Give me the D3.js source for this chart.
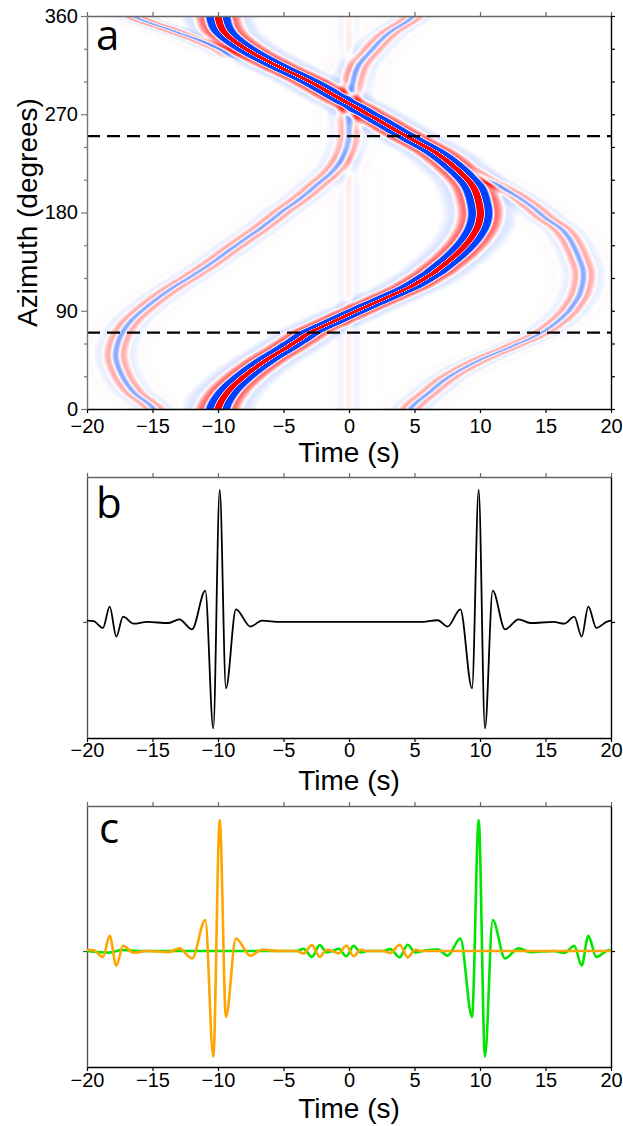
<!DOCTYPE html>
<html>
<head>
<meta charset="utf-8">
<script src="https://cdn.jsdelivr.net/npm/d3@7"></script>
<style>
body { margin: 0; background: #fff; }
svg { display: block; }
text { font-family: "Liberation Sans", Arial, sans-serif; }
</style>
</head>
<body>
<script>
// ---- axis values ----
var timeTicks = [-20, -15, -10, -5, 0, 5, 10, 15, 20];
var azLabels = [0, 90, 180, 270, 360];
var azMinor = [30, 60, 120, 150, 210, 240, 300, 330];
var azRight = [0, 30, 60, 90, 120, 150, 180, 210, 240, 270, 300, 330, 360];
var dashedAz = [70, 250];

// ---- panel a: arrival time (s) against azimuth (deg) ----
var mainAz = [0, 15, 30, 45, 60, 70, 80, 90, 100, 112, 125, 143, 160, 175, 190, 205, 220, 235, 250, 260, 270, 285, 300, 315, 330, 345, 360];
var mainT  = [-10, -9.3, -8.0, -6.3, -4.3, -3.0, -1.2, 0.6, 2.5, 4.7, 6.5, 8.3, 9.5, 10.0, 9.9, 9.4, 8.2, 6.6, 4.4, 2.9, 1.4, -0.8, -3.0, -5.6, -7.9, -9.5, -10];
var mainAmp = 1;

var leftAz = [0, 15, 30, 48, 65, 80, 95, 110, 125, 137, 150, 165, 182, 195, 205, 216, 228, 240, 252, 268, 283, 298, 314, 329, 344, 360];
var leftT  = [-14.9, -16.4, -17.3, -17.8, -17.5, -16.7, -15.3, -13.6, -11.6, -10.1, -8.6, -6.8, -5.0, -3.5, -2.5, -1.4, -0.6, -0.15, 0.0, 0.0, 0.05, 0.25, 0.7, 1.75, 3.0, 4.9];
var leftAmp = -0.14;

var rightAz = [0, 15, 30, 45, 60, 70, 80, 90, 105, 124, 140, 155, 165, 175, 185, 195, 205, 213, 222];
var rightT  = [4.7, 6.1, 7.7, 10.0, 12.9, 14.7, 15.9, 16.8, 17.6, 17.9, 17.5, 16.9, 16.2, 15.0, 14.0, 12.8, 11.4, 10.2, 9.3];
var rightAmp = -0.14;

var topAz = [318, 323, 332, 344, 360];
var topT  = [-8.2, -9.0, -10.3, -12.9, -16.4];
var topAmp = -0.15;

var zeroAz = [0, 360];
var zeroT  = [0, 0];
var zeroAmp = 0.02;

// band profile across an arrival in panel a (offset s, relative amplitude)
var bandOffsets = [-3.2, -2.1, -1.2, -0.55, 0, 0.55, 1.2, 2.1, 3.2];
var bandAmps    = [0, -0.04, 0.17, -0.7, 1.0, -0.7, 0.17, -0.04, 0];

// ---- panel b trace ----
var bTime = [-20, -19.5, -18.78, -18.27, -17.76, -17.25, -16.44, -15.42, -13.77, -12.95, -11.98, -10.97, -10.36, -9.87, -9.39, -8.63, -7.53, -6.64, -5.24,
             5.45, 6.77, 7.53, 8.50, 9.39, 9.90, 10.38, 10.97, 11.91, 12.95, 13.84, 15.62, 16.44, 17.2, 17.76, 18.27, 18.88, 19.7, 20];
var bAmp  = [0.01, 0.006, -0.045, 0.116, -0.111, 0.04, -0.013, 0, -0.008, 0.02, -0.056, 0.237, -0.806, 1.0, -0.503, 0.096, -0.035, 0.01, 0,
             0, 0.013, -0.035, 0.096, -0.503, 1.0, -0.806, 0.237, -0.056, 0.02, -0.008, 0, -0.013, 0.04, -0.111, 0.116, -0.045, 0.003, 0.01];

// ---- panel c traces ----
var orangeTime = [-20, -19.5, -18.78, -18.27, -17.76, -17.25, -16.44, -15.42, -13.77, -12.95, -11.98, -10.97, -10.36, -9.87, -9.39, -8.63, -7.53, -6.64, -5.24,
                  -4.0, -3.47, -2.83, -2.24, -1.7, -1.25, -0.79, -0.2, 0.36, 0.87, 1.4, 2.6, 3.15, 3.87, 4.48, 5.05, 5.6, 20];
var orangeAmp  = [0.01, 0.006, -0.045, 0.116, -0.111, 0.04, -0.013, 0, -0.008, 0.02, -0.056, 0.237, -0.806, 1.0, -0.503, 0.096, -0.035, 0.01, 0,
                  0, -0.018, 0.045, -0.045, 0.01, 0, -0.018, 0.04, -0.04, 0.01, 0, 0, -0.015, 0.048, -0.048, 0.01, 0, 0];
var greenTime = [-20, -18.3, -17.3, -16.0, -4.0, -3.47, -2.83, -2.24, -1.7, -1.25, -0.79, -0.2, 0.36, 0.87, 1.4, 2.6, 3.15, 3.87, 4.48, 5.05, 5.6,
                 6.77, 7.53, 8.50, 9.39, 9.90, 10.38, 10.97, 11.91, 12.95, 13.84, 15.62, 16.44, 17.2, 17.76, 18.27, 18.88, 19.7, 20];
var greenAmp  = [0, -0.012, 0.008, 0, 0, 0.018, -0.045, 0.045, -0.01, 0, 0.018, -0.04, 0.04, -0.01, 0, 0, 0.015, -0.048, 0.048, -0.01, 0,
                 0.013, -0.035, 0.096, -0.503, 1.0, -0.806, 0.237, -0.056, 0.02, -0.008, 0, -0.013, 0.04, -0.111, 0.116, -0.045, 0.003, 0.01];

// ---------------------------------------------------------------
var svg = d3.select("body").append("svg").attr("width", 623).attr("height", 1126);

var x = d3.scaleLinear().domain([-20, 20]).range([87, 611]);
var yA = d3.scaleLinear().domain([0, 360]).range([409, 16]);
var yB = d3.scaleLinear().domain([-0.879, 1.098]).range([738, 477]);
var yC = d3.scaleLinear().domain([-0.885, 1.107]).range([1067, 806]);

var color = d3.scaleLinear().domain([-0.3, 0, 0.3]).range(["#0040ff", "#ffffff", "#ff0000"]).clamp(true);

function band(s) {
  var n = bandOffsets.length;
  if (s <= bandOffsets[0] || s >= bandOffsets[n - 1]) return 0;
  var i = d3.bisectRight(bandOffsets, s) - 1;
  var f = (s - bandOffsets[i]) / (bandOffsets[i + 1] - bandOffsets[i]);
  return bandAmps[i] + (bandAmps[i + 1] - bandAmps[i]) * (1 - Math.cos(Math.PI * f)) / 2;
}

// smooth reading between the sampled azimuths
function arrivalAt(az, azs, ts) {
  var n = azs.length;
  if (az < azs[0] || az > azs[n - 1]) return null;
  var i = Math.min(d3.bisectRight(azs, az) - 1, n - 2);
  var f = (az - azs[i]) / (azs[i + 1] - azs[i]);
  var p0 = ts[Math.max(i - 1, 0)], p1 = ts[i], p2 = ts[i + 1], p3 = ts[Math.min(i + 2, n - 1)];
  return 0.5 * (2 * p1 + (-p0 + p2) * f + (2 * p0 - 5 * p1 + 4 * p2 - p3) * f * f + (-p0 + 3 * p1 - 3 * p2 + p3) * f * f * f);
}

var arrivals = [
  { az: mainAz, t: mainT, amp: mainAmp },
  { az: leftAz, t: leftT, amp: leftAmp },
  { az: rightAz, t: rightT, amp: rightAmp },
  { az: topAz, t: topT, amp: topAmp },
  { az: zeroAz, t: zeroT, amp: zeroAmp }
];

// ---- panel a image ----
var x0 = x.range()[0], y0 = yA.range()[1];
var cw = Math.round(x.range()[1] - x0), ch = Math.round(yA.range()[0] - y0);
var canvas = document.createElement("canvas");
canvas.width = cw; canvas.height = ch;
var ctx = canvas.getContext("2d");
var img = ctx.createImageData(cw, ch);
var lut = d3.range(801).map(function(k) { return d3.rgb(color((k - 400) / 1000)); });

for (var j = 0; j < ch; j++) {
  var az = yA.invert(y0 + j + 0.5);
  var active = [];
  arrivals.forEach(function(a) {
    var tc = arrivalAt(az, a.az, a.t);
    if (tc === null) return;
    var a0 = a.az[0], a1 = a.az[a.az.length - 1];
    var w = 1;
    if (a0 > 0) w = Math.min(w, (az - a0) / 8);
    if (a1 < 360) w = Math.min(w, (a1 - az) / 8);
    w = Math.max(0, Math.min(1, w));
    active.push([tc, a.amp * w]);
  });
  for (var i = 0; i < cw; i++) {
    var t = x.invert(x0 + i + 0.5);
    var v = 0;
    for (var k = 0; k < active.length; k++) v += active[k][1] * band(t - active[k][0]);
    var idx = Math.max(0, Math.min(800, Math.round(v * 1000) + 400));
    var c = lut[idx], p = (j * cw + i) * 4;
    img.data[p] = c.r; img.data[p + 1] = c.g; img.data[p + 2] = c.b; img.data[p + 3] = 255;
  }
}
ctx.putImageData(img, 0, 0);

svg.append("image")
  .attr("x", x0).attr("y", y0).attr("width", cw).attr("height", ch)
  .attr("preserveAspectRatio", "none")
  .attr("href", canvas.toDataURL());

svg.selectAll(".dash").data(dashedAz).enter().append("line")
  .attr("x1", x(-20)).attr("x2", x(20))
  .attr("y1", function(d) { return yA(d); }).attr("y2", function(d) { return yA(d); })
  .attr("stroke", "#000").attr("stroke-width", 2.2).attr("stroke-dasharray", "13,7");

// ---- axes helpers ----
function styleAxis(g, col, fs) {
  g.attr("font-size", fs).attr("font-family", "'Liberation Sans', Arial, sans-serif");
  g.selectAll("path.domain").attr("stroke", col).attr("stroke-width", 1.4);
  g.selectAll(".tick line").attr("stroke", col).attr("stroke-width", 1.2);
  g.selectAll(".tick text").attr("fill", "#000");
}

function frame(y, bottomPad) {
  var top = y.range()[1], bottom = y.range()[0];
  var gb = svg.append("g").attr("transform", "translate(0," + bottom + ")")
    .call(d3.axisBottom(x).tickValues(timeTicks).tickSize(4).tickSizeOuter(0).tickPadding(bottomPad));
  styleAxis(gb, "#000", 20);
  var gt = svg.append("g").attr("transform", "translate(0," + top + ")")
    .call(d3.axisTop(x).tickValues(timeTicks).tickSize(4).tickSizeOuter(0).tickFormat(""));
  styleAxis(gt, "#666", 20);
}

// panel a frame
frame(yA, 6);
var gl = svg.append("g").attr("transform", "translate(" + x(-20) + ",0)")
  .call(d3.axisLeft(yA).tickValues(azLabels).tickSize(6).tickSizeOuter(0).tickPadding(3));
styleAxis(gl, "#777", 20);
var glm = svg.append("g").attr("transform", "translate(" + x(-20) + ",0)")
  .call(d3.axisLeft(yA).tickValues(azMinor).tickSize(3).tickSizeOuter(0).tickFormat(""));
styleAxis(glm, "#777", 20);
glm.select("path.domain").remove();
var gr = svg.append("g").attr("transform", "translate(" + x(20) + ",0)")
  .call(d3.axisRight(yA).tickValues(azRight).tickSize(4).tickSizeOuter(0).tickFormat(""));
styleAxis(gr, "#000", 20);

// panels b and c frames
[yB, yC].forEach(function(y) {
  frame(y, y === yB ? 1 : 2);
  var l = svg.append("g").attr("transform", "translate(" + x(-20) + ",0)")
    .call(d3.axisLeft(y).tickValues([0]).tickSize(4).tickSizeOuter(0).tickFormat(""));
  styleAxis(l, "#555", 20);
  var r = svg.append("g").attr("transform", "translate(" + x(20) + ",0)")
    .call(d3.axisRight(y).tickValues([0]).tickSize(4).tickSizeOuter(0).tickFormat(""));
  styleAxis(r, "#000", 20);
});

// ---- traces ----
function trace(y) {
  return d3.line().x(function(d) { return x(d[0]); }).y(function(d) { return y(d[1]); }).curve(d3.curveMonotoneX);
}
svg.append("path").attr("d", trace(yB)(d3.zip(bTime, bAmp)))
  .attr("fill", "none").attr("stroke", "#000").attr("stroke-width", 1.8);
svg.append("path").attr("d", trace(yC)(d3.zip(greenTime, greenAmp)))
  .attr("fill", "none").attr("stroke", "#00e600").attr("stroke-width", 2.6);
svg.append("path").attr("d", trace(yC)(d3.zip(orangeTime, orangeAmp)))
  .attr("fill", "none").attr("stroke", "#ffa500").attr("stroke-width", 2.6);

// ---- titles ----
[462, 790, 1118].forEach(function(b) {
  svg.append("text").attr("x", x(0)).attr("y", b).attr("text-anchor", "middle")
    .attr("font-size", 28).text("Time (s)");
});
svg.append("text").attr("transform", "translate(37," + ((yA.range()[0] + yA.range()[1]) / 2) + ") rotate(-90)")
  .attr("text-anchor", "middle").attr("font-size", 28).text("Azimuth (degrees)");

var letters = [["a", 96, 50], ["b", 96, 518], ["c", 99, 843]];
letters.forEach(function(d) {
  svg.append("text").attr("x", d[1]).attr("y", d[2]).attr("font-size", 42)
    .style("font-family", "'Open Sans', 'Liberation Sans', sans-serif").text(d[0]);
});
</script>
</body>
</html>
